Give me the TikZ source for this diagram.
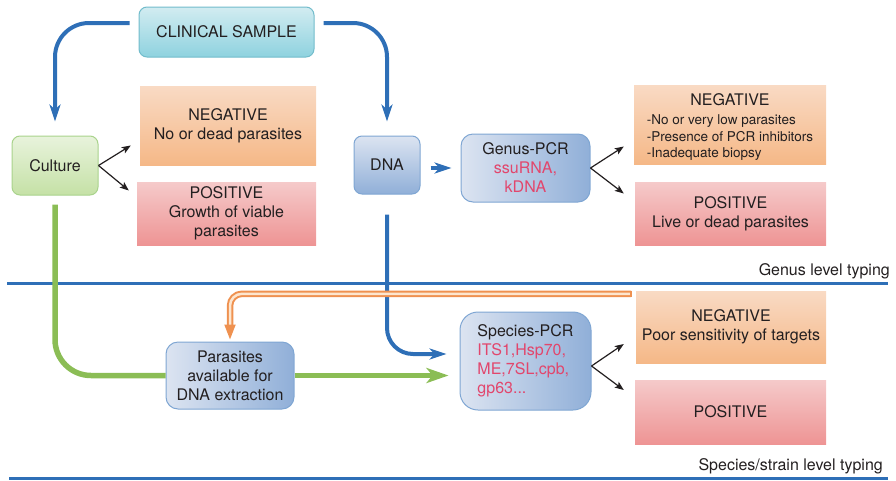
\documentclass[tikz,border=0pt]{standalone}
\usepackage{fontspec}
\setmainfont{TeX Gyre Heros}
\usetikzlibrary{arrows.meta}
\definecolor{ink}{HTML}{231F20}
\definecolor{genered}{HTML}{E2466C}
\definecolor{flowblue}{HTML}{2E6FB7}
\definecolor{flowgreen}{HTML}{8BBD55}
\definecolor{floworange}{HTML}{EF9150}
\definecolor{orangecore}{HTML}{FDE6CF}
\definecolor{sampletop}{HTML}{D2ECF1}
\definecolor{samplebot}{HTML}{8ED2DF}
\definecolor{sampleedge}{HTML}{72BCCB}
\definecolor{negtop}{HTML}{F9DAC4}
\definecolor{negbot}{HTML}{F5B887}
\definecolor{postop}{HTML}{F5CACA}
\definecolor{posbot}{HTML}{EE9494}
\definecolor{culttop}{HTML}{E8F3DC}
\definecolor{cultbot}{HTML}{C5E1A6}
\definecolor{cultedge}{HTML}{A9D38C}
\definecolor{dnalight}{HTML}{DCE4F1}
\definecolor{dnadark}{HTML}{90AFD8}
\definecolor{dnaedge}{HTML}{7FA6D3}
\begin{document}
\begin{tikzpicture}[x=1pt,y=-1pt,
    every node/.style={text=ink, font=\fontsize{16}{19}\selectfont},
    box/.style={inner sep=0pt, align=center},
    roundbox/.style={box, rounded corners=8pt, draw, line width=1pt},
    samplebox/.style={roundbox, draw=sampleedge, top color=sampletop, bottom color=samplebot},
    cultbox/.style={roundbox, draw=cultedge, top color=culttop, bottom color=cultbot},
    dnabox/.style={roundbox, draw=dnaedge, top color=dnalight, bottom color=dnadark},
    pcrbox/.style={roundbox, rounded corners=12pt, draw=dnaedge, left color=dnalight, right color=dnadark},
    negbox/.style={box, top color=negtop, bottom color=negbot},
    posbox/.style={box, top color=postop, bottom color=posbot},
    flow/.style={flowblue, line width=4pt, rounded corners=34pt,
      -{Stealth[length=17pt,width=11pt,inset=5pt]}},
    cultflow/.style={flowgreen, line width=5.5pt, rounded corners=36pt},
    fork/.style={ink, line width=1.2pt, -{Stealth[length=9pt,width=7pt,inset=2pt]}},
    rule/.style={flowblue, line width=3pt}]
\useasboundingbox (0,0) rectangle (896,480);
%% Boxes
\node[samplebox, minimum width=175pt, minimum height=50pt] (sample) at (226.5,32) {CLINICAL SAMPLE};
\node[negbox, minimum width=176pt, minimum height=79pt] (cultneg) at (228,125.5) {NEGATIVE\\No or dead parasites};
\node[posbox, minimum width=179pt, minimum height=63pt] (cultpos) at (226.5,213.5) {POSITIVE\\Growth of viable\\parasites};
\node[cultbox, minimum width=86pt, minimum height=59pt] (culture) at (55,165.5) {Culture};
\node[dnabox, minimum width=66pt, minimum height=58pt] (dna) at (387,165) {DNA};
\node[pcrbox, minimum width=129pt, minimum height=68pt] (genus) at (525.5,168)
  {Genus-PCR\\\textcolor{genered}{ssuRNA,}\\\textcolor{genered}{kDNA}};
\node[negbox, minimum width=192pt, minimum height=79pt] (genusneg) at (730,124.5)
  {\rule{0pt}{19.5pt}NEGATIVE\\{\fontsize{13.5}{16.6}\selectfont\begin{tabular}[t]{@{}l@{}}-No or very low parasites\\-Presence of PCR inhibitors\\-Inadequate biopsy\end{tabular}}};
\node[posbox, minimum width=191pt, minimum height=63pt] (genuspos) at (730.5,213.5) {POSITIVE\\Live or dead parasites};
\node[pcrbox, minimum width=128pt, minimum height=67pt] (parasites) at (230,375.5) {Parasites\\available for\\DNA extraction};
\node[pcrbox, align=left, rounded corners=18pt, minimum width=131pt, minimum height=98pt] (species) at (525.5,361)
  {Species-PCR\\\textcolor{genered}{ITS1,Hsp70,}\\\textcolor{genered}{ME,7SL,cpb,}\\\textcolor{genered}{gp63...}};
\node[negbox, minimum width=190pt, minimum height=72pt] (speciesneg) at (731,327) {NEGATIVE\\Poor sensitivity of targets};
\node[posbox, minimum width=191pt, minimum height=64pt] (speciespos) at (730.5,412) {POSITIVE};
%% Levels
\draw[rule] (7,283) -- (888,283);
\node[anchor=base east, inner sep=0pt] (genuslevel) at (890,275) {Genus level typing};
\draw[rule] (9,478) -- (888,478);
\node[anchor=base east, inner sep=0pt] (specieslevel) at (883,470) {Species/strain level typing};
%% Sample split
\draw[flow] ([xshift=-9pt,yshift=9pt]sample.west) -| ([yshift=14pt]culture.north);
\draw[flow] ([xshift=9pt,yshift=9pt]sample.east) -| ([yshift=14pt]dna.north);
\draw[flow, shorten <=10pt, shorten >=9pt] (dna.east |- genus.west) -- (genus.west);
\draw[flow, rounded corners=26pt] ([yshift=-20pt]dna.south) |- ([xshift=-13pt,yshift=7pt]species.west);
%% Culture route
\draw[cultflow] ([yshift=-9pt]culture.south) |- (parasites.west);
\draw[cultflow, -{Stealth[length=22pt,width=15pt,inset=6pt]}] (parasites.east) -- ([xshift=-11pt]species.west |- parasites.east);
%% Back to culture
\coordinate (backstart) at ([xshift=-5pt,yshift=-3pt]speciesneg.north west);
\draw[floworange, line width=2pt, double=orangecore, double distance=2.5pt, rounded corners=12pt,
  -{Triangle[length=15pt,width=11pt]}] (backstart) -| ([yshift=2pt]parasites.north);
\draw[floworange, line width=2pt] ([yshift=3.25pt]backstart) -- ([yshift=-3.25pt]backstart);
%% Outcomes
\draw[fork] (culture.east) -- ([xshift=-9pt,yshift=-20pt]cultneg.west);
\draw[fork] (culture.east) -- ([xshift=-8pt,yshift=23pt]cultpos.west);
\draw[fork] (genus.east) -- ([xshift=-10pt,yshift=-22pt]genusneg.west);
\draw[fork] (genus.east) -- ([xshift=-11pt,yshift=20pt]genuspos.west);
\draw[fork] ([yshift=-5pt]species.east) -- ([xshift=-12pt,yshift=-17pt]speciesneg.west);
\draw[fork] ([yshift=-5pt]species.east) -- ([xshift=-11pt,yshift=22pt]speciespos.west);
\end{tikzpicture}
\end{document}
